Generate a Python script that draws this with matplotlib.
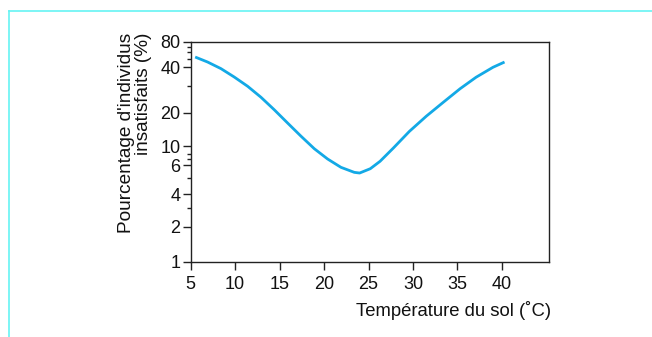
import matplotlib.pyplot as plt
import numpy as np
from matplotlib.lines import Line2D


OUTPUT_PNG = "out.png"

# floor temperature (degC) and share of dissatisfied people (%)
SOIL_TEMP = [5.5, 6.9, 8.4, 9.9, 11.4, 12.9, 14.4, 15.9, 17.4, 18.9, 20.4, 21.9,
             23.4, 24.0, 25.2, 26.3, 27.8, 29.6, 31.5, 33.4, 35.3, 37.1, 39.0, 40.3]
DISSATISFIED_PCT = [53.0, 46.2, 39.2, 34.5, 30.0, 25.4, 21.0, 16.2, 12.3, 9.3, 7.05, 5.81,
                    5.42, 5.37, 5.70, 6.63, 9.48, 13.6, 18.7, 23.5, 28.9, 34.4, 40.0, 46.2]

X_TICKS = [5, 10, 15, 20, 25, 30, 35, 40]
Y_TICKS = [1, 2, 4, 6, 10, 20, 40, 80]
Y_MINOR_TICKS = [3, 5, 7, 8, 30, 50, 60, 70]

# the printed y axis is log-like but unevenly spaced: height of each labelled tick
# above the "1" tick, as drawn in the original figure
Y_TICK_HEIGHTS = [0, 35, 67.4, 96.7, 115.7, 148.7, 194.4, 219.7]

CURVE_COLOR = "#13a9e6"
FRAME_COLOR = "#66f3f3"
AXIS_COLOR = "#222222"

plt.rcParams["font.family"] = ["Liberation Sans", "DejaVu Sans"]
plt.rcParams["font.size"] = 13.3


def forward(v):
    v = np.maximum(np.asarray(v, dtype=float), 1e-6)
    return np.interp(np.log10(v), np.log10(Y_TICKS), Y_TICK_HEIGHTS,
                     left=-1e3, right=1e3)


def inverse(h):
    return 10 ** np.interp(h, Y_TICK_HEIGHTS, np.log10(Y_TICKS))


def main():
    fig = plt.figure(figsize=(6.52, 3.37), dpi=100)
    ax = fig.add_axes([0.2925, 0.2234, 0.5495, 0.652])

    ax.plot(SOIL_TEMP, DISSATISFIED_PCT, color=CURVE_COLOR, linewidth=2.0,
            solid_capstyle="butt", solid_joinstyle="round")

    ax.set_yscale("function", functions=(forward, inverse))
    ax.set_ylim(1, 80)
    ax.set_xlim(5, 45.3)

    ax.set_xticks(X_TICKS)
    ax.set_xticklabels([str(t) for t in X_TICKS])
    ax.set_yticks(Y_TICKS)
    ax.set_yticklabels([str(t) for t in Y_TICKS])
    ax.set_yticks(Y_MINOR_TICKS, minor=True)
    ax.set_yticklabels([], minor=True)

    for spine in ax.spines.values():
        spine.set_color(AXIS_COLOR)
        spine.set_linewidth(1.0)

    ax.tick_params(axis="both", which="major", direction="out", length=6,
                   width=1.0, color=AXIS_COLOR, labelcolor="#111111", labelsize=13)
    ax.tick_params(axis="y", which="minor", direction="out", length=3,
                   width=1.0, color=AXIS_COLOR)
    ax.tick_params(axis="y", which="major", pad=1.5)
    ax.tick_params(axis="x", which="major", pad=4)

    fig.text(135 / 652, 1 - 33 / 337, "Pourcentage d'individus\ninsatisfaits (%)",
             rotation=90, ha="center", va="top", multialignment="right",
             linespacing=1.05, color="#111111", fontsize=13.7)
    fig.text(551 / 652, 1 - 310 / 337, "Température du sol (˚C)",
             ha="right", va="center", color="#111111")

    # page frame lines of the source document
    fig.add_artist(Line2D([8.5 / 652, 1], [1 - 11 / 337, 1 - 11 / 337],
                          transform=fig.transFigure, color=FRAME_COLOR, linewidth=1.2))
    fig.add_artist(Line2D([8.5 / 652, 8.5 / 652], [0, 1 - 11 / 337],
                          transform=fig.transFigure, color=FRAME_COLOR, linewidth=1.2))

    fig.savefig(OUTPUT_PNG, dpi=100)
    plt.close(fig)


if __name__ == "__main__":
    main()
